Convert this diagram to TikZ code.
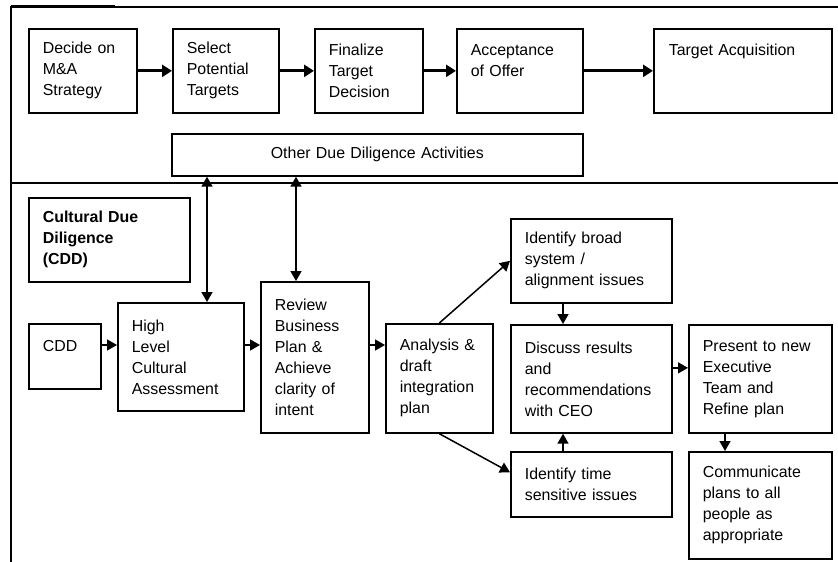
\documentclass[tikz,border=0pt]{standalone}
\usepackage{fontspec}
\setmainfont{Liberation Sans}
\usetikzlibrary{arrows.meta, positioning}

\tikzset{
  box/.style={draw, line width=1.7pt, anchor=north west, align=left,
    inner xsep=14pt, inner ysep=0pt, font=\fontsize{15.9}{21}\selectfont},
  bigarrow/.style={line width=2.8pt, -{Triangle[length=10pt,width=12pt]}},
  smallarrow/.style={line width=1.5pt, -{Triangle[length=10pt,width=11pt]}},
  twoarrow/.style={line width=1.5pt, {Triangle[length=10pt,width=11pt]}-{Triangle[length=10pt,width=11pt]}},
}

\begin{document}
\begin{tikzpicture}[x=1pt, y=-1pt]
    \useasboundingbox (0,0) rectangle (838,562);

    % Frame
    \draw[line width=1.4pt] (11,562) -- (11,7) -- (838,7);
    \draw[line width=2.4pt] (11,6) -- (115,6);
    \draw[line width=1.4pt] (11,183) -- (838,183);

    % M&A process
    \node[box, text width=80, minimum height=84] (decide) at (28,28) {Decide on\\M\&A\\Strategy};
    \node[box, text width=78, minimum height=84] (select) at (172,28) {Select\\Potential\\Targets};
    \node[box, text width=80, minimum height=84] (finalize) at (314,28) {Finalize\\Target\\Decision};
    \node[box, text width=98, minimum height=84] (accept) at (456,28) {Acceptance\\of Offer\\~};
    \node[box, text width=148, minimum height=84, inner xsep=15pt] (acquire) at (653,28) {Target Acquisition\\~\\~};
    \node[box, text width=383, minimum height=42, align=center] (otherdd) at (171,133) {Other Due Diligence Activities};

    \draw[bigarrow] (decide) -- (select);
    \draw[bigarrow] (select) -- (finalize);
    \draw[bigarrow] (finalize) -- (accept);
    \draw[bigarrow] (accept) -- (acquire);

    % Cultural due diligence
    \node[box, text width=133, minimum height=84, font=\fontsize{15.9}{21}\selectfont\bfseries] (cddtitle) at (28,197) {Cultural Due\\Diligence\\(CDD)};
    \node[box, text width=44, minimum height=65] (cdd) at (28,323) {CDD\\~};
    \node[box, text width=98, minimum height=108] (highlevel) at (117,302) {High\\Level\\Cultural\\Assessment};
    \node[box, text width=80, minimum height=151] (review) at (260,281) {Review\\Business\\Plan \&\\Achieve\\clarity of\\intent};
    \node[box, text width=79, minimum height=109] (analysis) at (385,323) {Analysis \&\\draft\\integration\\plan};
    \node[box, text width=133, minimum height=84] (broad) at (510,218) {Identify broad\\system /\\alignment issues};
    \node[box, text width=133, minimum height=108] (discuss) at (510,324) {Discuss results\\and\\recommendations\\with CEO};
    \node[box, text width=133, minimum height=65] (timesens) at (510,451) {Identify time\\sensitive issues};
    \node[box, text width=115, minimum height=108] (present) at (688,324) {Present to new\\Executive\\Team and\\Refine plan};
    \node[box, text width=115, minimum height=107] (communicate) at (688,451) {Communicate\\plans to all\\people as\\appropriate};

    \coordinate (row) at (0,345);
    \coordinate (linkA) at (207,0);
    \coordinate (linkB) at (296,0);
    \coordinate (midcol) at (563,0);
    \coordinate (rightcol) at (725,0);

    \draw[twoarrow] (otherdd.south -| linkA) -- (highlevel.north -| linkA);
    \draw[twoarrow] (otherdd.south -| linkB) -- (review.north -| linkB);

    \draw[smallarrow] (cdd.east |- row) -- (highlevel.west |- row);
    \draw[smallarrow] (highlevel.east |- row) -- (review.west |- row);
    \draw[smallarrow] (review.east |- row) -- (analysis.west |- row);
    \draw[smallarrow] (analysis.north) -- (broad.west);
    \draw[smallarrow] (analysis.south) -- ([yshift=12pt]timesens.west);
    \draw[smallarrow] (broad.south -| midcol) -- (discuss.north -| midcol);
    \draw[smallarrow] (timesens.north -| midcol) -- (discuss.south -| midcol);
    \draw[smallarrow] ([yshift=11pt]discuss.east) -- ([yshift=11pt]present.west);
    \draw[smallarrow] (present.south -| rightcol) -- (communicate.north -| rightcol);
\end{tikzpicture}
\end{document}
